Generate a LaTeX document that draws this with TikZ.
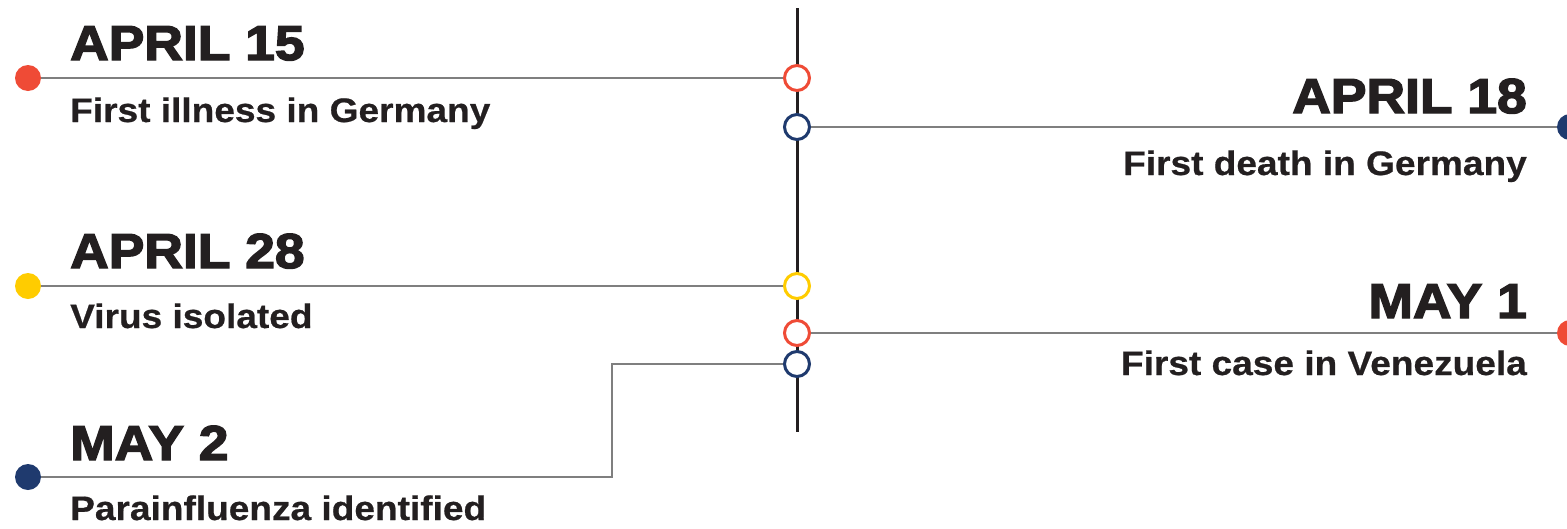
\documentclass[tikz,border=0pt]{standalone}
\usepackage{fontspec}
\setmainfont{Liberation Sans}
\newfontfamily\datefont[FakeBold=3,FakeStretch=1.09]{Liberation Sans Bold}
\newfontfamily\notefont[FakeBold=0.6,FakeStretch=1.09]{Liberation Sans Bold}
\usepackage{tikz}
\definecolor{ink}{HTML}{231F20}
\definecolor{wiregray}{HTML}{7F7F7F}
\definecolor{tred}{HTML}{EF4B36}
\definecolor{tblue}{HTML}{1F3A6E}
\definecolor{tyellow}{HTML}{FFCC00}
\tikzset{
  axis/.style={draw=ink, line width=3pt, line cap=butt},
  wire/.style={draw=wiregray, line width=2pt},
  dot/.style={circle, fill=#1, minimum size=26pt, inner sep=0pt},
  ring/.style={circle, draw=#1, fill=white, line width=3pt, minimum size=25pt, inner sep=0pt},
  date/.style={font=\datefont\fontsize{49}{49}\selectfont, text=ink, inner sep=0pt},
  note/.style={font=\notefont\fontsize{34}{34}\selectfont, text=ink, inner sep=0pt},
}

\begin{document}
\begin{tikzpicture}[x=1pt,y=-1pt]
  \useasboundingbox (0,0) rectangle (1567,528);
  % time axis
  \coordinate (top) at (797,8);
  \coordinate (bot) at (797,432);
  \draw[axis] (top) -- (bot);
  % end dots
  \node[dot=tred]    (d15) at (28,78)   {};
  \node[dot=tblue]   (d18) at (1570,127) {};
  \node[dot=tyellow] (d28) at (28,286)  {};
  \node[dot=tred]    (d01) at (1570,333) {};
  \node[dot=tblue]   (d02) at (28,477)  {};
  % rings on the axis
  \node[ring=tred]    (c15) at (797,78)  {};
  \node[ring=tblue]   (c18) at (797,127) {};
  \node[ring=tyellow] (c28) at (797,286) {};
  \node[ring=tred]    (c01) at (797,333) {};
  \node[ring=tblue]   (c02) at (797,364) {};
  % connectors
  \coordinate (k02) at (612,477);
  \draw[wire] (d15) -- (c15);
  \draw[wire] (c18) -- (d18);
  \draw[wire] (d28) -- (c28);
  \draw[wire] (c01) -- (d01);
  \draw[wire] (d02) -- (k02) |- (c02);
  % labels
  \node[date,anchor=base west] (t15) at (70,60)    {APRIL 15};
  \node[note,anchor=base west] (n15) at (70,122)   {First illness in Germany};
  \node[date,anchor=base east] (t18) at (1527,113) {APRIL 18};
  \node[note,anchor=base east] (n18) at (1527,175) {First death in Germany};
  \node[date,anchor=base west] (t28) at (70,268)   {APRIL 28};
  \node[note,anchor=base west] (n28) at (70,328)   {Virus isolated};
  \node[date,anchor=base east] (t01) at (1527,318) {MAY 1};
  \node[note,anchor=base east] (n01) at (1527,375) {First case in Venezuela};
  \node[date,anchor=base west] (t02) at (70,460)   {MAY 2};
  \node[note,anchor=base west] (n02) at (70,520)   {Parainfluenza identified};
\end{tikzpicture}
\end{document}
